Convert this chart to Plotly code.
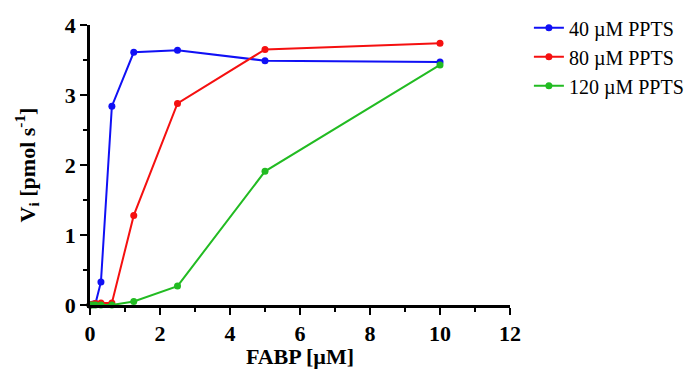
import plotly.graph_objects as go

# FABP concentrations (µM) and initial rates (pmol/s) at three PPTS levels
fabp = [0, 0.078, 0.156, 0.3125, 0.625, 1.25, 2.5, 5, 10]
v_40 = [0.0, 0.01, 0.02, 0.33, 2.84, 3.61, 3.64, 3.49, 3.47]
v_80 = [0.0, 0.01, 0.02, 0.03, 0.03, 1.28, 2.88, 3.65, 3.74]
v_120 = [0.0, 0.0, 0.0, 0.0, 0.0, 0.05, 0.27, 1.91, 3.43]

series_names = ["40 µM PPTS", "80 µM PPTS", "120 µM PPTS"]
series_values = [v_40, v_80, v_120]
colors = ["#1010f5", "#f51010", "#22bb22"]

x_ticks = [0, 2, 4, 6, 8, 10, 12]
y_ticks = [0, 1, 2, 3, 4]

font_family = "Liberation Serif, Times New Roman, serif"

fig = go.Figure()
for name, vals, col in zip(series_names, series_values, colors):
    fig.add_trace(go.Scatter(
        x=fabp, y=vals, name=name, mode="lines+markers",
        line=dict(color=col, width=2),
        marker=dict(color=col, size=7),
        cliponaxis=False,
    ))

axis_common = dict(
    showline=True, linecolor="black", linewidth=2.5,
    ticks="outside", ticklen=7, tickwidth=2, tickcolor="black",
    showgrid=False, zeroline=False, automargin=False,
    tickfont=dict(family=font_family, size=22, color="black", weight="bold"),
)

fig.update_xaxes(
    range=[0, 12], tickvals=x_ticks,
    minor=dict(ticks="outside", dtick=1, ticklen=4, tickwidth=2, tickcolor="black"),
    title=dict(text="<b>FABP [µM]</b>", font=dict(family=font_family, size=22, color="black"),
               standoff=7),
    **axis_common,
)
fig.update_yaxes(
    range=[0, 4], tickvals=y_ticks,
    minor=dict(ticks="outside", dtick=0.5, ticklen=4, tickwidth=2, tickcolor="black"),
    title=dict(text="<b>V<sub>i</sub> [pmol s<sup>-1</sup>]</b>",
               font=dict(family=font_family, size=22, color="black"), standoff=24),
    **axis_common,
)

fig.update_layout(
    width=699, height=369,
    margin=dict(l=90, r=189, t=25, b=64, autoexpand=False),
    plot_bgcolor="white", paper_bgcolor="white",
    font=dict(family=font_family),
    legend=dict(x=1.045, y=1.06, xanchor="left", yanchor="top",
                font=dict(family=font_family, size=20, color="black"),
                itemwidth=30, tracegroupgap=0),
    showlegend=True,
)

fig.write_html("out.html")
